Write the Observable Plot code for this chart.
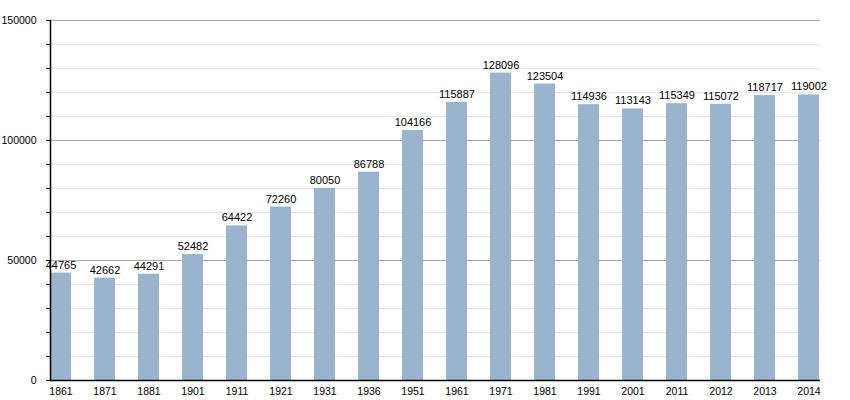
<!DOCTYPE html>
<html>
<head>
<meta charset="utf-8">
<script src="https://cdn.jsdelivr.net/npm/d3@7"></script>
<script src="https://cdn.jsdelivr.net/npm/@observablehq/plot@0.6"></script>
<style>
body { margin: 0; background: #fff; }
svg { font-family: "Liberation Sans", Arial, sans-serif; }
</style>
</head>
<body>
<div id="chart"></div>
<script>
const years = ["1861","1871","1881","1901","1911","1921","1931","1936","1951","1961","1971","1981","1991","2001","2011","2012","2013","2014"];
const population = [44765,42662,44291,52482,64422,72260,80050,86788,104166,115887,128096,123504,114936,113143,115349,115072,118717,119002];
const majorTicks = [0, 50000, 100000, 150000];
const minorTicks = [10000,20000,30000,40000,60000,70000,80000,90000,110000,120000,130000,140000];
const allTicks = d3.range(0, 150001, 10000);

const data = years.map((y, i) => ({year: y, value: population[i]}));

const chart = Plot.plot({
  width: 850,
  height: 400,
  marginLeft: 50,
  marginRight: 30,
  marginTop: 20,
  marginBottom: 20,
  style: {fontFamily: "Liberation Sans, Arial, sans-serif", fontSize: "11px", background: "#fff", color: "#000"},
  x: {domain: years, paddingInner: 0.52, paddingOuter: 0, label: null},
  y: {domain: [0, 150000], label: null},
  marks: [
    Plot.ruleY(minorTicks, {stroke: "#e6e6e6", strokeWidth: 1}),
    Plot.ruleY(majorTicks.filter(d => d > 0), {stroke: "#aaaaaa", strokeWidth: 1}),
    Plot.barY(data, {x: "year", y: "value", fill: "#9bb4cd"}),
    Plot.text(data, {x: "year", y: "value", text: d => String(d.value), dy: -8, fill: "#000", fontSize: 11}),
    Plot.axisY({ticks: allTicks, tickFormat: d => majorTicks.includes(d) ? String(d) : "", tickSize: 4, tickPadding: 10, stroke: "#000", fill: "#000", fontSize: 10.5, label: null}),
    Plot.axisX({tickSize: 0, tickPadding: 7, fill: "#000", fontSize: 10.5, label: null}),
    Plot.frame({anchor: "left", stroke: "#000", strokeWidth: 1.5}),
    Plot.ruleY([0], {stroke: "#000", strokeWidth: 1.5})
  ]
});

document.getElementById("chart").appendChild(chart);
</script>
</body>
</html>
